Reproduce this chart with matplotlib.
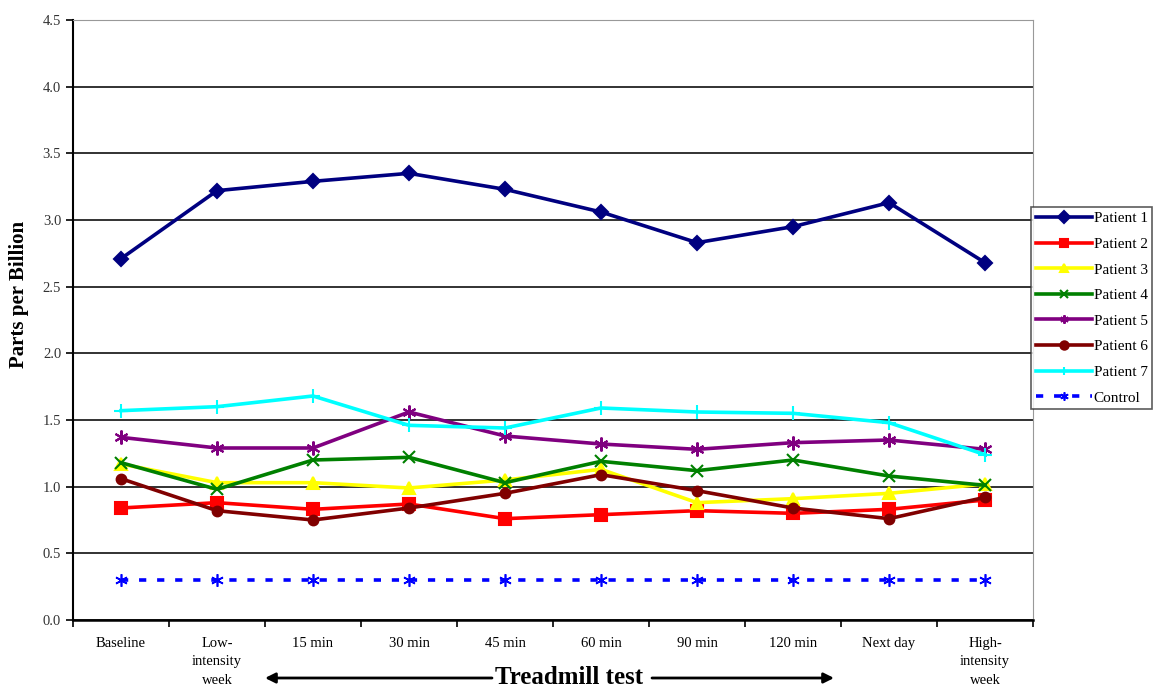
import numpy as np
import matplotlib
matplotlib.use('Agg')
import matplotlib.pyplot as plt
from matplotlib.patches import FancyArrowPatch

plt.rcParams['font.family'] = ['Liberation Serif', 'DejaVu Serif']

time_points = ['Baseline', 'Low-\nintensity\nweek', '15 min', '30 min', '45 min',
               '60 min', '90 min', '120 min', 'Next day', 'High-\nintensity\nweek']

patient_1 = [2.71, 3.22, 3.29, 3.35, 3.23, 3.06, 2.83, 2.95, 3.13, 2.68]
patient_2 = [0.84, 0.88, 0.83, 0.87, 0.76, 0.79, 0.82, 0.80, 0.83, 0.90]
patient_3 = [1.17, 1.03, 1.03, 0.99, 1.05, 1.13, 0.88, 0.91, 0.95, 1.02]
patient_4 = [1.18, 0.98, 1.20, 1.22, 1.03, 1.19, 1.12, 1.20, 1.08, 1.01]
patient_5 = [1.37, 1.29, 1.29, 1.56, 1.38, 1.32, 1.28, 1.33, 1.35, 1.28]
patient_6 = [1.06, 0.82, 0.75, 0.84, 0.95, 1.09, 0.97, 0.84, 0.76, 0.92]
patient_7 = [1.57, 1.60, 1.68, 1.46, 1.44, 1.59, 1.56, 1.55, 1.48, 1.24]
control = [0.30, 0.30, 0.30, 0.30, 0.30, 0.30, 0.30, 0.30, 0.30, 0.30]

series = [
    ('Patient 1', patient_1, '#000080', 'D', 7),
    ('Patient 2', patient_2, '#ff0000', 's', 8),
    ('Patient 3', patient_3, '#ffff00', '^', 9),
    ('Patient 4', patient_4, '#008000', 'x', 8),
    ('Patient 5', patient_5, '#800080', (6, 2, 0), 10),
    ('Patient 6', patient_6, '#800000', 'o', 7),
    ('Patient 7', patient_7, '#00ffff', '+', 10),
]

fig = plt.figure(figsize=(11.53, 6.90), dpi=100)
ax = fig.add_axes([73 / 1153, 70 / 690, 960 / 1153, 600 / 690])

x = np.arange(len(time_points))
for name, vals, color, marker, ms in series:
    ax.plot(x, vals, color=color, lw=2.6, marker=marker, ms=ms,
            mew=1.5, label=name, zorder=3)
ax.plot(x, control, color='#0000ff', lw=2.6, ls=(0, (2, 3)), marker=(6, 2, 0),
        ms=9, mew=1.2, label='Control', zorder=3)

ax.set_xlim(-0.5, len(time_points) - 0.5)
ax.set_ylim(0, 4.5)
yt = np.arange(0, 4.51, 0.5)
ax.set_yticks(yt)
ax.set_yticklabels(['%.1f' % v for v in yt], fontsize=10.5, color='#333333')
ax.yaxis.grid(True, color='#222222', lw=1.3)
ax.set_axisbelow(True)

# category ticks sit between the groups, labels centred on them
ax.set_xticks(np.arange(-0.5, len(time_points) - 0.4, 1.0))
ax.set_xticklabels([])
ax.set_xticks(x, minor=True)
ax.set_xticklabels(time_points, minor=True, fontsize=10.5, linespacing=1.55)
ax.tick_params(axis='x', which='minor', length=0, pad=12)
ax.tick_params(axis='both', which='major', direction='out', length=5, width=1.2)

ax.spines['left'].set_linewidth(1.5)
ax.spines['bottom'].set_linewidth(1.8)
ax.spines['top'].set_color('#999999')
ax.spines['right'].set_color('#999999')

ax.set_ylabel('Parts per Billion', fontsize=15, fontweight='bold')
ax.yaxis.set_label_coords(-0.046, 0.543)

# treadmill test span below the axis
ty = 1 - 678 / 690
fig.text(569 / 1153, ty, 'Treadmill test', ha='center', va='center',
         fontsize=18, fontweight='bold')
for x0, x1 in [(492, 265), (652, 834)]:
    fig.add_artist(FancyArrowPatch((x0 / 1153, ty), (x1 / 1153, ty),
                                   transform=fig.transFigure, arrowstyle='-|>',
                                   mutation_scale=15, lw=2, color='black',
                                   shrinkA=0, shrinkB=0))

leg = fig.legend(loc='upper left', bbox_to_anchor=(1031 / 1153, 1 - 207 / 690),
                 fontsize=11, frameon=True, fancybox=False, edgecolor='#333333',
                 handlelength=3.7, handletextpad=0.1, borderpad=0.3,
                 labelspacing=0.78, borderaxespad=0)
leg.get_frame().set_linewidth(1.2)
for h in leg.legend_handles:
    h.set_markersize(6)

fig.savefig('out.png', dpi=100)
